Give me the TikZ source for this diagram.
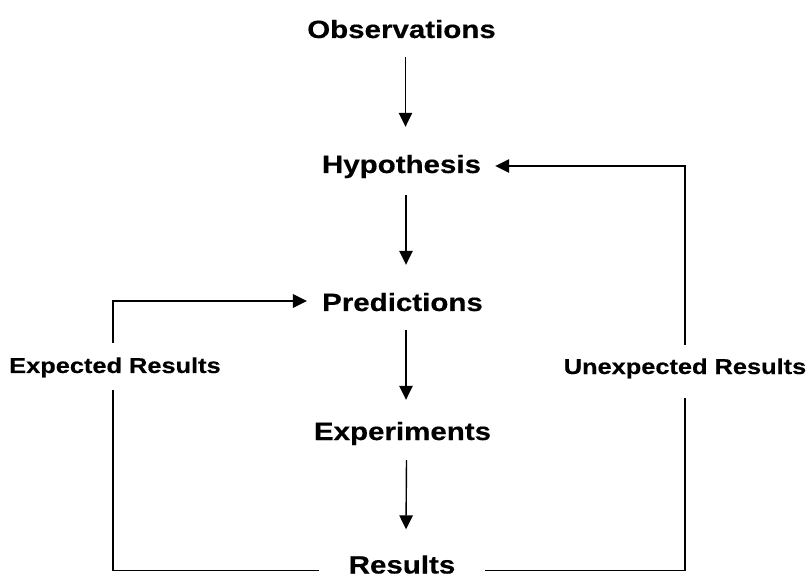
\documentclass[tikz,border=0pt]{standalone}
\usepackage{fontspec}
\newfontfamily\diagfont{Liberation Sans}[FakeStretch=1.18]
\newfontfamily\diagfontb{Liberation Sans Bold}[FakeStretch=1.18,FakeBold=0.4]
\usetikzlibrary{arrows.meta,calc}
\begin{document}
\begin{tikzpicture}[x=1pt,y=-1pt,
  stage/.style={font=\diagfontb\fontsize{25}{30}\selectfont, inner sep=0pt, text height=17pt, text depth=0pt, anchor=base},
  side/.style={font=\diagfontb\fontsize{21.5}{26}\selectfont, inner sep=0pt, text height=15pt, text depth=0pt, anchor=base},
  conn/.style={line width=1.4pt, black},
  arr/.style={conn, -{Triangle[length=14pt,width=13.5pt]}}]
\useasboundingbox (0,0) rectangle (806,577);
% stages
\node[stage] (obs)  at (401.5,38)  {Observations};
\node[stage] (hyp)  at (401.5,173) {Hypothesis};
\node[stage] (pred) at (402.5,311) {Predictions};
\node[stage] (expt) at (402.5,440) {Experiments};
\node[stage] (res)  at (402,573.5) {Results};
% side labels
\node[side] (expd)  at (115,373) {Expected Results};
\node[side] (unexp) at (685,374) {Unexpected Results};
% corners
\coordinate (bl) at (113,570.5);
\coordinate (br) at (685,570.5);
\coordinate (tl) at (113,301);
% vertical chain
\draw[arr] ($(obs.south)+(4,19)$)  -- ($(hyp.north)+(4,-29)$);
\draw[arr] ($(hyp.south)+(4.5,22)$) -- ($(pred.north)+(3.5,-29)$);
\draw[arr] ($(pred.south)+(3.5,19)$) -- ($(expt.north)+(3.5,-23)$);
\draw[arr] ($(expt.south)+(4,20)$) -- ($(res.north)+(4,-27)$);
% expected loop
\draw[conn] ($(res.west |- bl)+(-30,0)$) -- (bl) -- ($(expd.south -| bl)+(0,17)$);
\draw[arr] ($(expd.north -| bl)+(0,-15)$) -- (tl) -- ($(pred.west |- tl)+(-15,0)$);
% unexpected loop
\draw[conn] ($(res.east |- br)+(30,0)$) -- (br) -- ($(unexp.south)+(0,24)$);
\draw[arr] ($(unexp.north)+(0,-14)$) |- ($(hyp.east)+(14,1.5)$);
\end{tikzpicture}
\end{document}
